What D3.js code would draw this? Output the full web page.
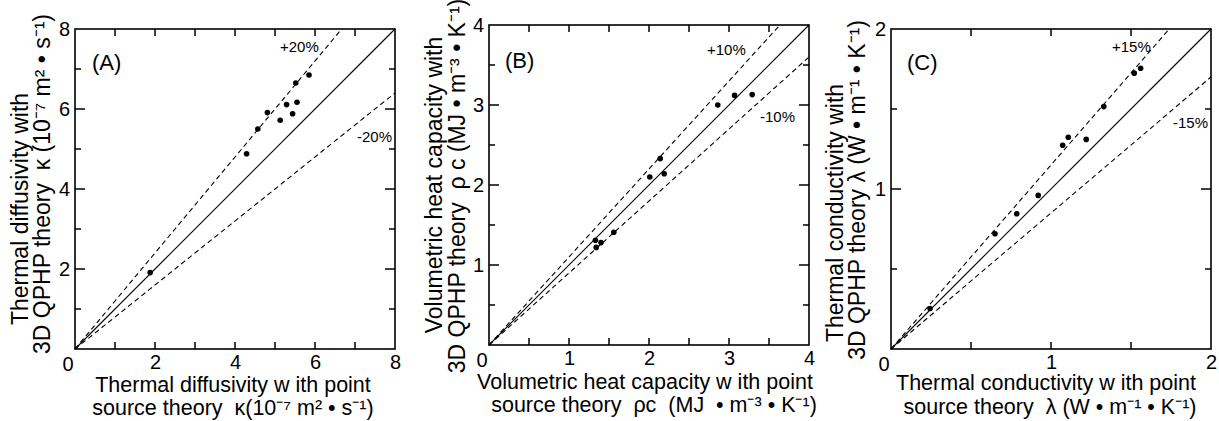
<!DOCTYPE html>
<html>
<head>
<meta charset="utf-8">
<script src="https://cdn.jsdelivr.net/npm/d3@7"></script>
<style>
  body { margin: 0; background: #fff; }
  svg { display: block; }
  text { font-family: "Liberation Sans", Arial, sans-serif; fill: #000; white-space: pre; }
</style>
</head>
<body>
<svg id="chart"></svg>
<script>
var width = 1219;
var height = 421;

// (A) thermal diffusivity, 10^-7 m2/s
var diffPoint = [1.88, 4.29, 4.57, 4.81, 5.13, 5.29, 5.44, 5.52, 5.55, 5.85];
var diffQphp  = [1.91, 4.88, 5.50, 5.91, 5.72, 6.11, 5.88, 6.65, 6.17, 6.85];
// (B) volumetric heat capacity, MJ/m3/K
var capPoint = [1.33, 1.34, 1.40, 1.56, 2.01, 2.14, 2.19, 2.86, 3.07, 3.29];
var capQphp  = [1.31, 1.22, 1.28, 1.41, 2.10, 2.33, 2.14, 3.00, 3.12, 3.13];
// (C) thermal conductivity, W/m/K
var condPoint = [0.244, 0.65, 0.786, 0.92, 1.073, 1.108, 1.22, 1.33, 1.52, 1.56];
var condQphp  = [0.253, 0.72, 0.845, 0.96, 1.273, 1.323, 1.31, 1.515, 1.724, 1.755];

// tolerance bands (+/-)
var bandA = 0.20, bandB = 0.10, bandC = 0.15;

// ticks
var ticksA = {max: 8, labels: [2, 4, 6, 8], xTicks: [1, 2, 3, 4, 5, 6, 7], yMajor: [2, 4, 6], yMinor: [1, 3, 5, 7]};
var ticksB = {max: 4, labels: [1, 2, 3, 4], xTicks: [0.5, 1, 1.5, 2, 2.5, 3, 3.5], yMajor: [1, 2, 3], yMinor: [0.5, 1.5, 2.5, 3.5]};
var ticksC = {max: 2, labels: [1, 2], xTicks: [0.5, 1, 1.5], yMajor: [1], yMinor: [0.5, 1.5]};

// axis titles (unicode superscripts)
var xTitleA = ["Thermal diffusivity w ith point",
               "source theory  \u03ba(10\u207b\u2077 m\u00b2 \u2022 s\u207b\u00b9)"];
var yTitleA = ["Thermal diffusivity with",
               "3D QPHP theory  \u03ba (10\u207b\u2077 m\u00b2 \u2022 s\u207b\u00b9)"];
var xTitleB = ["Volumetric heat capacity w ith point",
               "source theory  \u03c1c  (MJ  \u2022 m\u207b\u00b3 \u2022 K\u207b\u00b9)"];
var yTitleB = ["Volumetric heat capacity with",
               "3D QPHP theory  \u03c1 c (MJ \u2022 m\u207b\u00b3 \u2022 K\u207b\u00b9)"];
var xTitleC = ["Thermal conductivity w ith point",
               "source theory  \u03bb (W \u2022 m\u207b\u00b9 \u2022 K\u207b\u00b9)"];
var yTitleC = ["Thermal conductivity with",
               "3D QPHP theory \u03bb (W \u2022 m\u207b\u00b9 \u2022 K\u207b\u00b9)"];

var panels = [
  {tag: "(A)", px: diffPoint, py: diffQphp, band: bandA, t: ticksA, left: 75, top: 29, size: 320,
   xTitle: xTitleA, yTitle: yTitleA,
   xt: [{cx: 233, y: 392}, {cx: 233, y: 415}], yt: [{cy: 209, x: 28}, {cy: 184, x: 50}],
   plus: [205, 23], minus: [282, 113], tagPos: [17, 41]},
  {tag: "(B)", px: capPoint, py: capQphp, band: bandB, t: ticksB, left: 489, top: 25, size: 320,
   xTitle: xTitleB, yTitle: yTitleB,
   xt: [{cx: 645, y: 389}, {cx: 654, y: 412}], yt: [{cy: 185, x: 442}, {cy: 186, x: 465}],
   plus: [218, 30], minus: [271, 97], tagPos: [16, 43]},
  {tag: "(C)", px: condPoint, py: condQphp, band: bandC, t: ticksC, left: 891, top: 29, size: 320,
   xTitle: xTitleC, yTitle: yTitleC,
   xt: [{cx: 1046, y: 390}, {cx: 1050, y: 414}], yt: [{cy: 213, x: 843}, {cy: 190, x: 865}],
   plus: [221, 23], minus: [282, 99], tagPos: [16, 41]}
];

var svg = d3.select("#chart")
    .attr("width", width)
    .attr("height", height);

panels.forEach(function(p) {
  var x = d3.scaleLinear().domain([0, p.t.max]).range([0, p.size]);
  var y = d3.scaleLinear().domain([0, p.t.max]).range([p.size, 0]);

  var g = svg.append("g").attr("transform", "translate(" + p.left + "," + p.top + ")");

  // reference lines y = x and +/- band
  var factors = [1, 1 + p.band, 1 - p.band];
  g.selectAll(".ref")
    .data(factors)
    .enter().append("line")
      .attr("class", "ref")
      .attr("x1", x(0)).attr("y1", y(0))
      .attr("x2", function(f) { return x(Math.min(p.t.max, p.t.max / f)); })
      .attr("y2", function(f) { return y(Math.min(p.t.max, p.t.max * f)); })
      .attr("stroke", "#000")
      .attr("stroke-width", 1.1)
      .attr("stroke-dasharray", function(f) { return f === 1 ? null : "5,3.5"; });

  // frame
  g.append("rect")
    .attr("width", p.size).attr("height", p.size)
    .attr("fill", "none").attr("stroke", "#000").attr("stroke-width", 1.6);

  // tick labels
  var xl = g.append("g").attr("transform", "translate(0," + p.size + ")")
    .call(d3.axisBottom(x).tickValues(p.t.labels).tickSize(0).tickPadding(6).tickFormat(d3.format("d")));
  var yl = g.append("g")
    .call(d3.axisLeft(y).tickValues(p.t.labels).tickSize(0).tickPadding(5).tickFormat(d3.format("d")));
  [xl, yl].forEach(function(a) {
    a.select(".domain").remove();
    a.selectAll("text").attr("font-size", 20).attr("font-family", null).attr("fill", "#000");
  });
  g.append("text")
    .attr("x", -7).attr("y", p.size + 22)
    .attr("text-anchor", "middle").attr("font-size", 20)
    .text("0");

  // points
  g.selectAll(".pt")
    .data(p.px.map(function(v, i) { return [v, p.py[i]]; }))
    .enter().append("circle")
      .attr("class", "pt")
      .attr("cx", function(d) { return x(d[0]); })
      .attr("cy", function(d) { return y(d[1]); })
      .attr("r", 2.8)
      .attr("fill", "#000");

  // ticks, pointing inward on all four sides
  var tickG = g.append("g").attr("class", "inticks");
  function tick(x1, y1, x2, y2) {
    tickG.append("line")
      .attr("x1", x1).attr("y1", y1).attr("x2", x2).attr("y2", y2)
      .style("stroke", "#000").style("stroke-width", "1.5px");
  }
  p.t.xTicks.forEach(function(v) {
    tick(x(v), p.size, x(v), p.size - 7);
    tick(x(v), 0, x(v), 7);
  });
  p.t.yMajor.forEach(function(v) {
    tick(0, y(v), 10, y(v));
    tick(p.size, y(v), p.size - 10, y(v));
  });
  p.t.yMinor.forEach(function(v) {
    tick(0, y(v), 6, y(v));
    tick(p.size, y(v), p.size - 6, y(v));
  });

  // annotations
  g.append("text").attr("x", p.tagPos[0]).attr("y", p.tagPos[1]).attr("font-size", 22).text(p.tag);
  var pct = Math.round(p.band * 100);
  g.append("text").attr("x", p.plus[0]).attr("y", p.plus[1]).attr("font-size", 15).text("+" + pct + "%");
  g.append("text").attr("x", p.minus[0]).attr("y", p.minus[1]).attr("font-size", 15).text("-" + pct + "%");

  // axis titles
  p.xTitle.forEach(function(line, i) {
    svg.append("text")
      .attr("x", p.xt[i].cx).attr("y", p.xt[i].y)
      .attr("text-anchor", "middle").attr("font-size", 21.5)
      .text(line);
  });
  p.yTitle.forEach(function(line, i) {
    svg.append("text")
      .attr("transform", "translate(" + p.yt[i].x + "," + p.yt[i].cy + ") rotate(-90)")
      .attr("text-anchor", "middle").attr("font-size", 23)
      .text(line);
  });
});
</script>
</body>
</html>
